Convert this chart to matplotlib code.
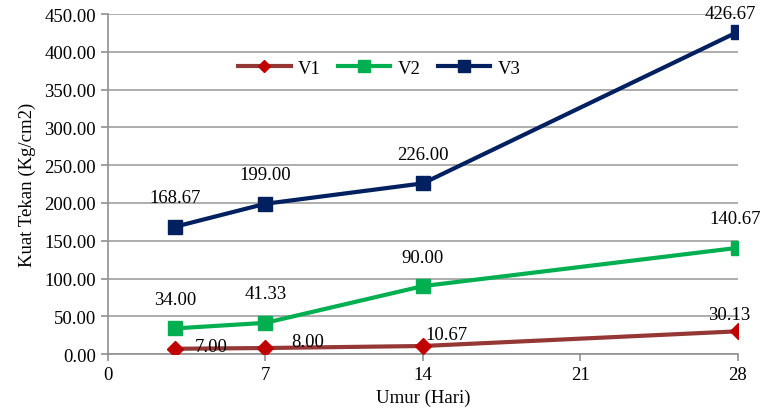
import numpy as np
import matplotlib
matplotlib.use('Agg')
import matplotlib.pyplot as plt

plt.rcParams['font.family'] = ['Liberation Serif', 'DejaVu Serif']

umur = [3, 7, 14, 28]
v1 = [7.00, 8.00, 10.67, 30.13]
v2 = [34.00, 41.33, 90.00, 140.67]
v3 = [168.67, 199.00, 226.00, 426.67]

# label offsets in pixels (dx, dy) relative to each point
off1 = [(36, 2), (42, 7), (24, 12), (-9, 17)]
off2 = [(0, 29), (0, 29), (0, 29), (-3, 29)]
off3 = [(0, 29), (0, 29), (0, 29), (-8, 18)]

fs = 13.5
fig = plt.figure(figsize=(7.6, 4.1), dpi=100)
ax = fig.add_axes([0.142, 0.134, 0.829, 0.829])

ax.plot(umur, v1, color='#953735', lw=3, marker='D', ms=8, mfc='#C00000', mec='#C00000', label='V1', zorder=3)
ax.plot(umur, v2, color='#00B050', lw=3, marker='s', ms=10, mfc='#00B050', mec='#00B050', label='V2', zorder=3)
ax.plot(umur, v3, color='#002060', lw=3, marker='s', ms=10, mfc='#002060', mec='#002060', label='V3', zorder=3)

# data labels
for vals, offs in ((v1, off1), (v2, off2), (v3, off3)):
    for x, y, (dx, dy) in zip(umur, vals, offs):
        ax.annotate('%.2f' % y, (x, y), xytext=(dx * 0.72, dy * 0.72), textcoords='offset points',
                    ha='center', va='center', fontsize=fs, annotation_clip=False, zorder=4)

ax.set_xlim(0, 28)
ax.set_ylim(0, 450)
ax.set_xticks([0, 7, 14, 21, 28])
ax.set_yticks(np.arange(0, 451, 50))
ax.set_yticklabels(['%.2f' % t for t in np.arange(0, 451, 50)])
ax.yaxis.grid(True, color='#A0A0A0', lw=1.2)
ax.set_axisbelow(True)
for s in ['top', 'right']:
    ax.spines[s].set_visible(False)
for s in ['left', 'bottom']:
    ax.spines[s].set_color('#909090')
    ax.spines[s].set_linewidth(1.2)
ax.tick_params(axis='both', colors='#909090', labelcolor='black', labelsize=fs, length=5, width=1.2)

ax.set_xlabel('Umur (Hari)', fontsize=fs, labelpad=4)
ax.set_ylabel('Kuat Tekan (Kg/cm2)', fontsize=fs, labelpad=6)

ax.legend(loc='upper left', bbox_to_anchor=(0.18, 0.915), ncol=3, frameon=False,
          fontsize=fs, handlelength=2.8, columnspacing=0.9, handletextpad=0.4,
          markerscale=0.8)

fig.savefig('out.png', dpi=100)
